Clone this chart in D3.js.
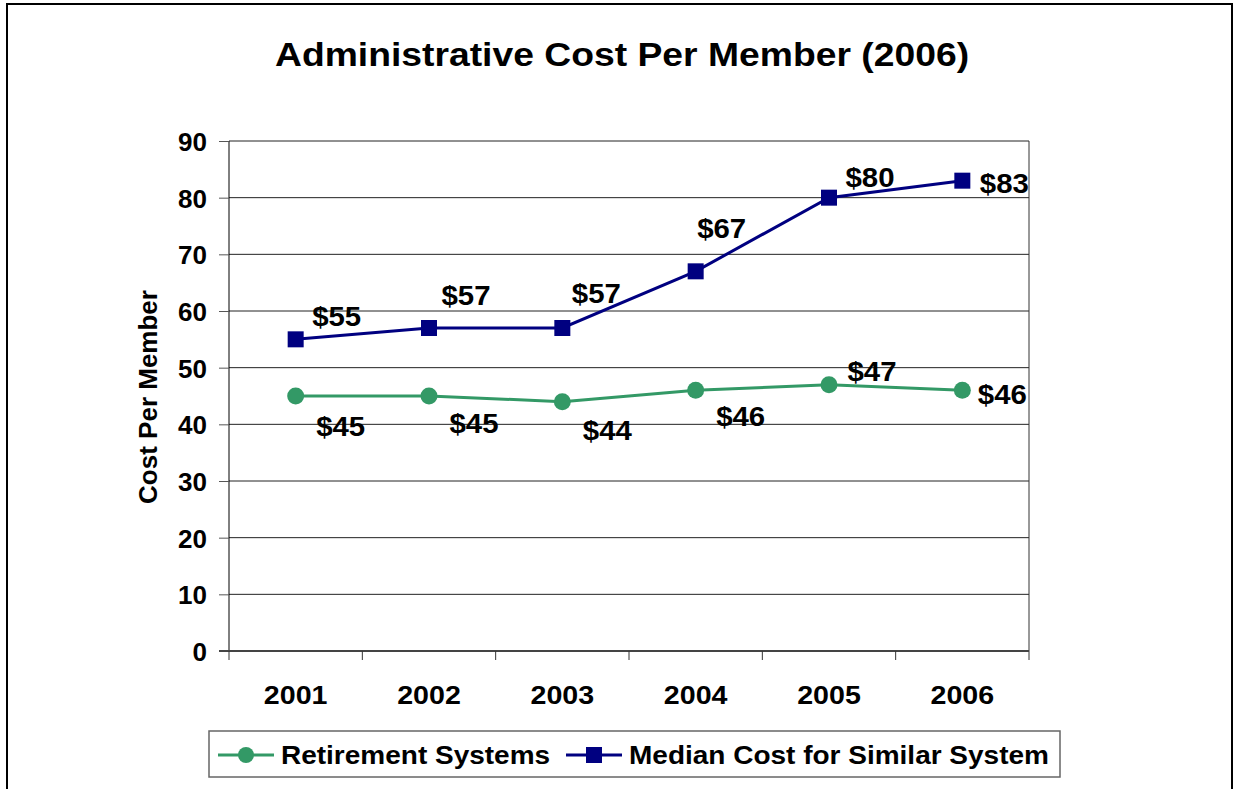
<!DOCTYPE html>
<html>
<head>
<meta charset="utf-8">
<script src="https://cdn.jsdelivr.net/npm/d3@7"></script>
<style>
  body { margin: 0; background: #fff; }
  text { font-family: "Liberation Sans", Arial, sans-serif; font-weight: bold; fill: #000; }
</style>
</head>
<body>
<div id="chart"></div>
<script>
// chart data
var years = ["2001", "2002", "2003", "2004", "2005", "2006"];
var retirement = [45, 45, 44, 46, 47, 46];
var median = [55, 57, 57, 67, 80, 83];
var yTicks = [0, 10, 20, 30, 40, 50, 60, 70, 80, 90];
var seriesNames = ["Retirement Systems", "Median Cost for Similar System"];

var svgWidth = 1235;
var svgHeight = 789;

var margin = { top: 141, right: 206, bottom: 138, left: 229 };
var width = svgWidth - margin.left - margin.right;
var height = svgHeight - margin.top - margin.bottom;

var green = "#339966";
var navy = "#000080";

var svg = d3.select("#chart")
  .append("svg")
  .attr("width", svgWidth)
  .attr("height", svgHeight);

// the old excel export has wide glyphs, so stretch text a bit sideways
function wideText(sel, x, y, sx) {
  return sel.append("text")
    .attr("transform", `translate(${x}, ${y}) scale(${sx}, 1)`);
}

// outer frame
svg.append("rect")
  .attr("x", 7).attr("y", 4)
  .attr("width", 1225).attr("height", 800)
  .attr("fill", "none")
  .attr("stroke", "#000")
  .attr("stroke-width", 2);

wideText(svg, 622, 66, 1.13)
  .attr("text-anchor", "middle")
  .style("font-size", "33px")
  .text("Administrative Cost Per Member (2006)");

var chartGroup = svg.append("g")
  .attr("transform", `translate(${margin.left}, ${margin.top})`);

var xScale = d3.scaleBand()
  .domain(years)
  .range([0, width]);

var yScale = d3.scaleLinear()
  .domain([0, 90])
  .range([height, 0]);

// grid lines
chartGroup.append("g")
  .selectAll("line")
  .data(yTicks.filter(d => d > 0))
  .enter()
  .append("line")
  .attr("x1", 0).attr("x2", width)
  .attr("y1", d => yScale(d)).attr("y2", d => yScale(d))
  .attr("stroke", "#222")
  .attr("stroke-width", 1);

// right edge of plot
chartGroup.append("line")
  .attr("x1", width).attr("x2", width)
  .attr("y1", 0).attr("y2", height + 9)
  .attr("stroke", "#333");

// y axis
var leftAxis = d3.axisLeft(yScale).tickValues(yTicks).tickSize(10).tickPadding(12);
var yAxisG = chartGroup.append("g").call(leftAxis);
yAxisG.select(".domain").attr("stroke", "#000").attr("d", `M0,0V${height}`);
yAxisG.selectAll(".tick text")
  .style("font-size", "26px")
  .attr("dy", "0.36em");
yAxisG.selectAll(".tick line").attr("stroke", "#555");

// x axis: ticks between categories
var xAxisG = chartGroup.append("g")
  .attr("transform", `translate(0, ${height})`);
xAxisG.append("line")
  .attr("x1", -10).attr("x2", width)
  .attr("stroke", "#444").attr("stroke-width", 2);
xAxisG.selectAll(".sep")
  .data(years)
  .enter()
  .append("line")
  .attr("class", "sep")
  .attr("x1", d => xScale(d)).attr("x2", d => xScale(d))
  .attr("y1", 0).attr("y2", 9)
  .attr("stroke", "#333");
years.forEach(function (yr) {
  wideText(xAxisG, xScale(yr) + xScale.bandwidth() / 2, 53, 1.1)
    .attr("text-anchor", "middle")
    .style("font-size", "26px")
    .text(yr);
});

// y axis title
svg.append("text")
  .attr("transform", "translate(157, 397) rotate(-90)")
  .attr("text-anchor", "middle")
  .style("font-size", "26px")
  .text("Cost Per Member");

var cx = (d, i) => xScale(years[i]) + xScale.bandwidth() / 2;
var line = d3.line().x(cx).y(d => yScale(d));

// series lines
chartGroup.append("path")
  .datum(retirement)
  .attr("d", line)
  .attr("fill", "none")
  .attr("stroke", green)
  .attr("stroke-width", 3);

chartGroup.append("path")
  .datum(median)
  .attr("d", line)
  .attr("fill", "none")
  .attr("stroke", navy)
  .attr("stroke-width", 3);

// markers
chartGroup.selectAll(".dot")
  .data(retirement)
  .enter()
  .append("circle")
  .attr("class", "dot")
  .attr("cx", cx)
  .attr("cy", d => yScale(d))
  .attr("r", 8.5)
  .attr("fill", green);

chartGroup.selectAll(".sq")
  .data(median)
  .enter()
  .append("rect")
  .attr("class", "sq")
  .attr("x", (d, i) => cx(d, i) - 8)
  .attr("y", d => yScale(d) - 8)
  .attr("width", 16).attr("height", 16)
  .attr("fill", navy);

// data labels (offsets from marker, like the excel layout)
var retOffsets = [[45, 30], [45, 27], [45, 28], [45, 26], [43, -14], [40, 4]];
var medOffsets = [[41, -23], [37, -33], [34, -35], [26, -43], [41, -21], [42, 2]];

retirement.forEach(function (d, i) {
  wideText(chartGroup, cx(d, i) + retOffsets[i][0], yScale(d) + retOffsets[i][1], 1.05)
    .attr("dy", "0.36em")
    .attr("text-anchor", "middle")
    .style("font-size", "28px")
    .text("$" + d);
});

median.forEach(function (d, i) {
  wideText(chartGroup, cx(d, i) + medOffsets[i][0], yScale(d) + medOffsets[i][1], 1.05)
    .attr("dy", "0.36em")
    .attr("text-anchor", "middle")
    .style("font-size", "28px")
    .text("$" + d);
});

// legend
var legend = svg.append("g");
legend.append("rect")
  .attr("x", 209).attr("y", 731)
  .attr("width", 851).attr("height", 46)
  .attr("fill", "#fff")
  .attr("stroke", "#666")
  .attr("stroke-width", 1.5);

var legendItems = [
  { name: seriesNames[0], color: green, x: 218, shape: "circle" },
  { name: seriesNames[1], color: navy, x: 566, shape: "square" }
];
legendItems.forEach(function (it) {
  legend.append("line")
    .attr("x1", it.x).attr("x2", it.x + 56)
    .attr("y1", 755).attr("y2", 755)
    .attr("stroke", it.color).attr("stroke-width", 3);
  if (it.shape === "circle") {
    legend.append("circle").attr("cx", it.x + 28).attr("cy", 755).attr("r", 8).attr("fill", it.color);
  } else {
    legend.append("rect").attr("x", it.x + 20).attr("y", 747).attr("width", 16).attr("height", 16).attr("fill", it.color);
  }
  wideText(legend, it.x + 63, 755, 1.12)
    .attr("dy", "0.36em")
    .style("font-size", "25px")
    .text(it.name);
});
</script>
</body>
</html>
